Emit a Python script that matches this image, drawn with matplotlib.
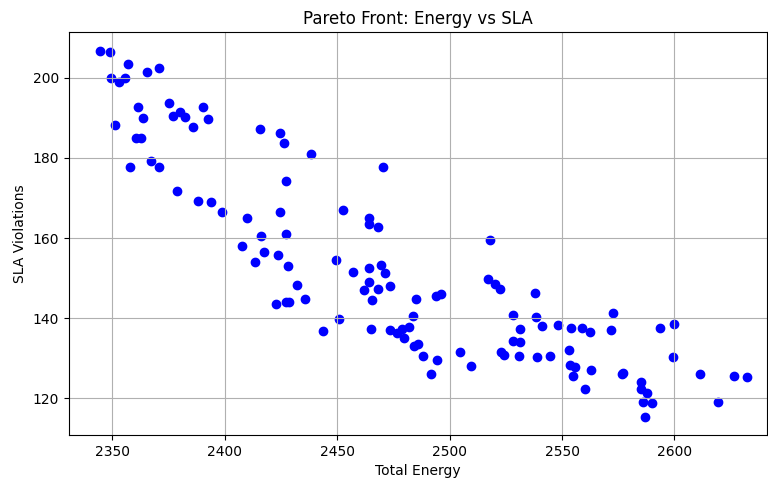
import matplotlib.pyplot as plt
import numpy as np

# total energy of each solution on the front
energy = [
  2344.7, 2349.1, 2357.1, 2365.6, 2370.9, 2349.6, 2353.0, 2355.5, 2351.1, 2361.4,
  2363.5, 2360.7, 2362.6, 2358.0, 2367.3, 2370.9, 2375.4, 2377.1, 2380.0, 2382.5,
  2385.9, 2390.3, 2392.6, 2378.9, 2388.3, 2393.9, 2398.9,
  2415.6, 2424.7, 2426.5, 2438.4, 2470.4, 2427.4, 2452.8, 2410.0, 2424.7, 2464.0,
  2464.0, 2468.2, 2416.0, 2427.4, 2407.8, 2417.3, 2413.3, 2423.6, 2428.0, 2449.6,
  2457.2, 2464.2, 2469.5, 2471.3, 2464.0, 2461.8, 2468.2, 2473.5, 2465.5, 2432.0,
  2435.9, 2423.0, 2427.1, 2428.6, 2485.0, 2494.1, 2496.2, 2483.6, 2450.8, 2443.9,
  2465.1, 2473.4, 2476.5, 2479.0, 2482.0, 2479.6, 2484.3, 2486.1, 2488.1, 2494.3,
  2491.5,
  2518.0, 2517.1, 2520.4, 2522.2, 2538.1, 2528.0, 2538.3, 2531.4, 2541.3, 2548.0,
  2553.9, 2558.8, 2562.4, 2572.7, 2572.0, 2528.4, 2531.4, 2504.8, 2523.0, 2524.4,
  2530.9, 2538.9, 2544.7, 2553.0, 2553.5, 2555.9, 2563.1, 2554.8, 2560.4, 2509.3,
  2593.6, 2600.0, 2599.5, 2576.7, 2577.0, 2611.4, 2626.7, 2632.2, 2585.2, 2585.2,
  2588.0, 2585.8, 2590.2, 2619.3, 2586.9,
]

# SLA violations for the same solutions
sla = [
  206.7, 206.4, 203.5, 201.5, 202.5, 199.8, 198.9, 199.8, 188.3, 192.8,
  190.0, 184.9, 184.9, 177.7, 179.1, 177.7, 193.6, 190.5, 191.4, 190.3,
  187.8, 192.8, 189.6, 171.7, 169.2, 169.0, 166.5,
  187.1, 186.1, 183.6, 181.0, 177.7, 174.2, 167.0, 165.0, 166.5, 164.9,
  163.6, 162.8, 160.6, 161.1, 158.1, 156.4, 154.1, 155.7, 153.1, 154.5,
  151.6, 152.6, 153.2, 151.4, 149.0, 147.1, 147.2, 148.0, 144.5, 148.2,
  144.9, 143.5, 144.0, 144.0, 144.7, 145.5, 146.0, 140.6, 139.8, 136.8,
  137.3, 137.1, 136.3, 137.3, 137.9, 135.0, 133.1, 133.7, 130.6, 129.6,
  126.2,
  159.5, 149.9, 148.5, 147.4, 146.2, 140.7, 140.4, 137.3, 138.0, 138.2,
  137.5, 137.5, 136.7, 141.2, 137.0, 134.3, 134.0, 131.6, 131.6, 130.8,
  130.6, 130.3, 130.6, 132.1, 128.3, 127.9, 127.1, 125.7, 122.4, 128.2,
  137.5, 138.6, 130.3, 126.0, 126.4, 126.2, 125.6, 125.4, 124.0, 122.3,
  121.4, 119.1, 118.9, 119.2, 115.5,
]

fig = plt.figure(figsize=(7.68, 4.78), dpi=100)
ax = fig.add_axes([0.0898, 0.090, 0.909, 0.8424])

ax.scatter(np.array(energy), np.array(sla), c='blue')
ax.set_xlim(2330.7, 2641.2)
ax.set_ylim(110.9, 211.3)

ax.set_title('Pareto Front: Energy vs SLA')
ax.set_xlabel('Total Energy')
ax.set_ylabel('SLA Violations')
ax.grid(True)

fig.savefig('out.png', dpi=100)
plt.close()
